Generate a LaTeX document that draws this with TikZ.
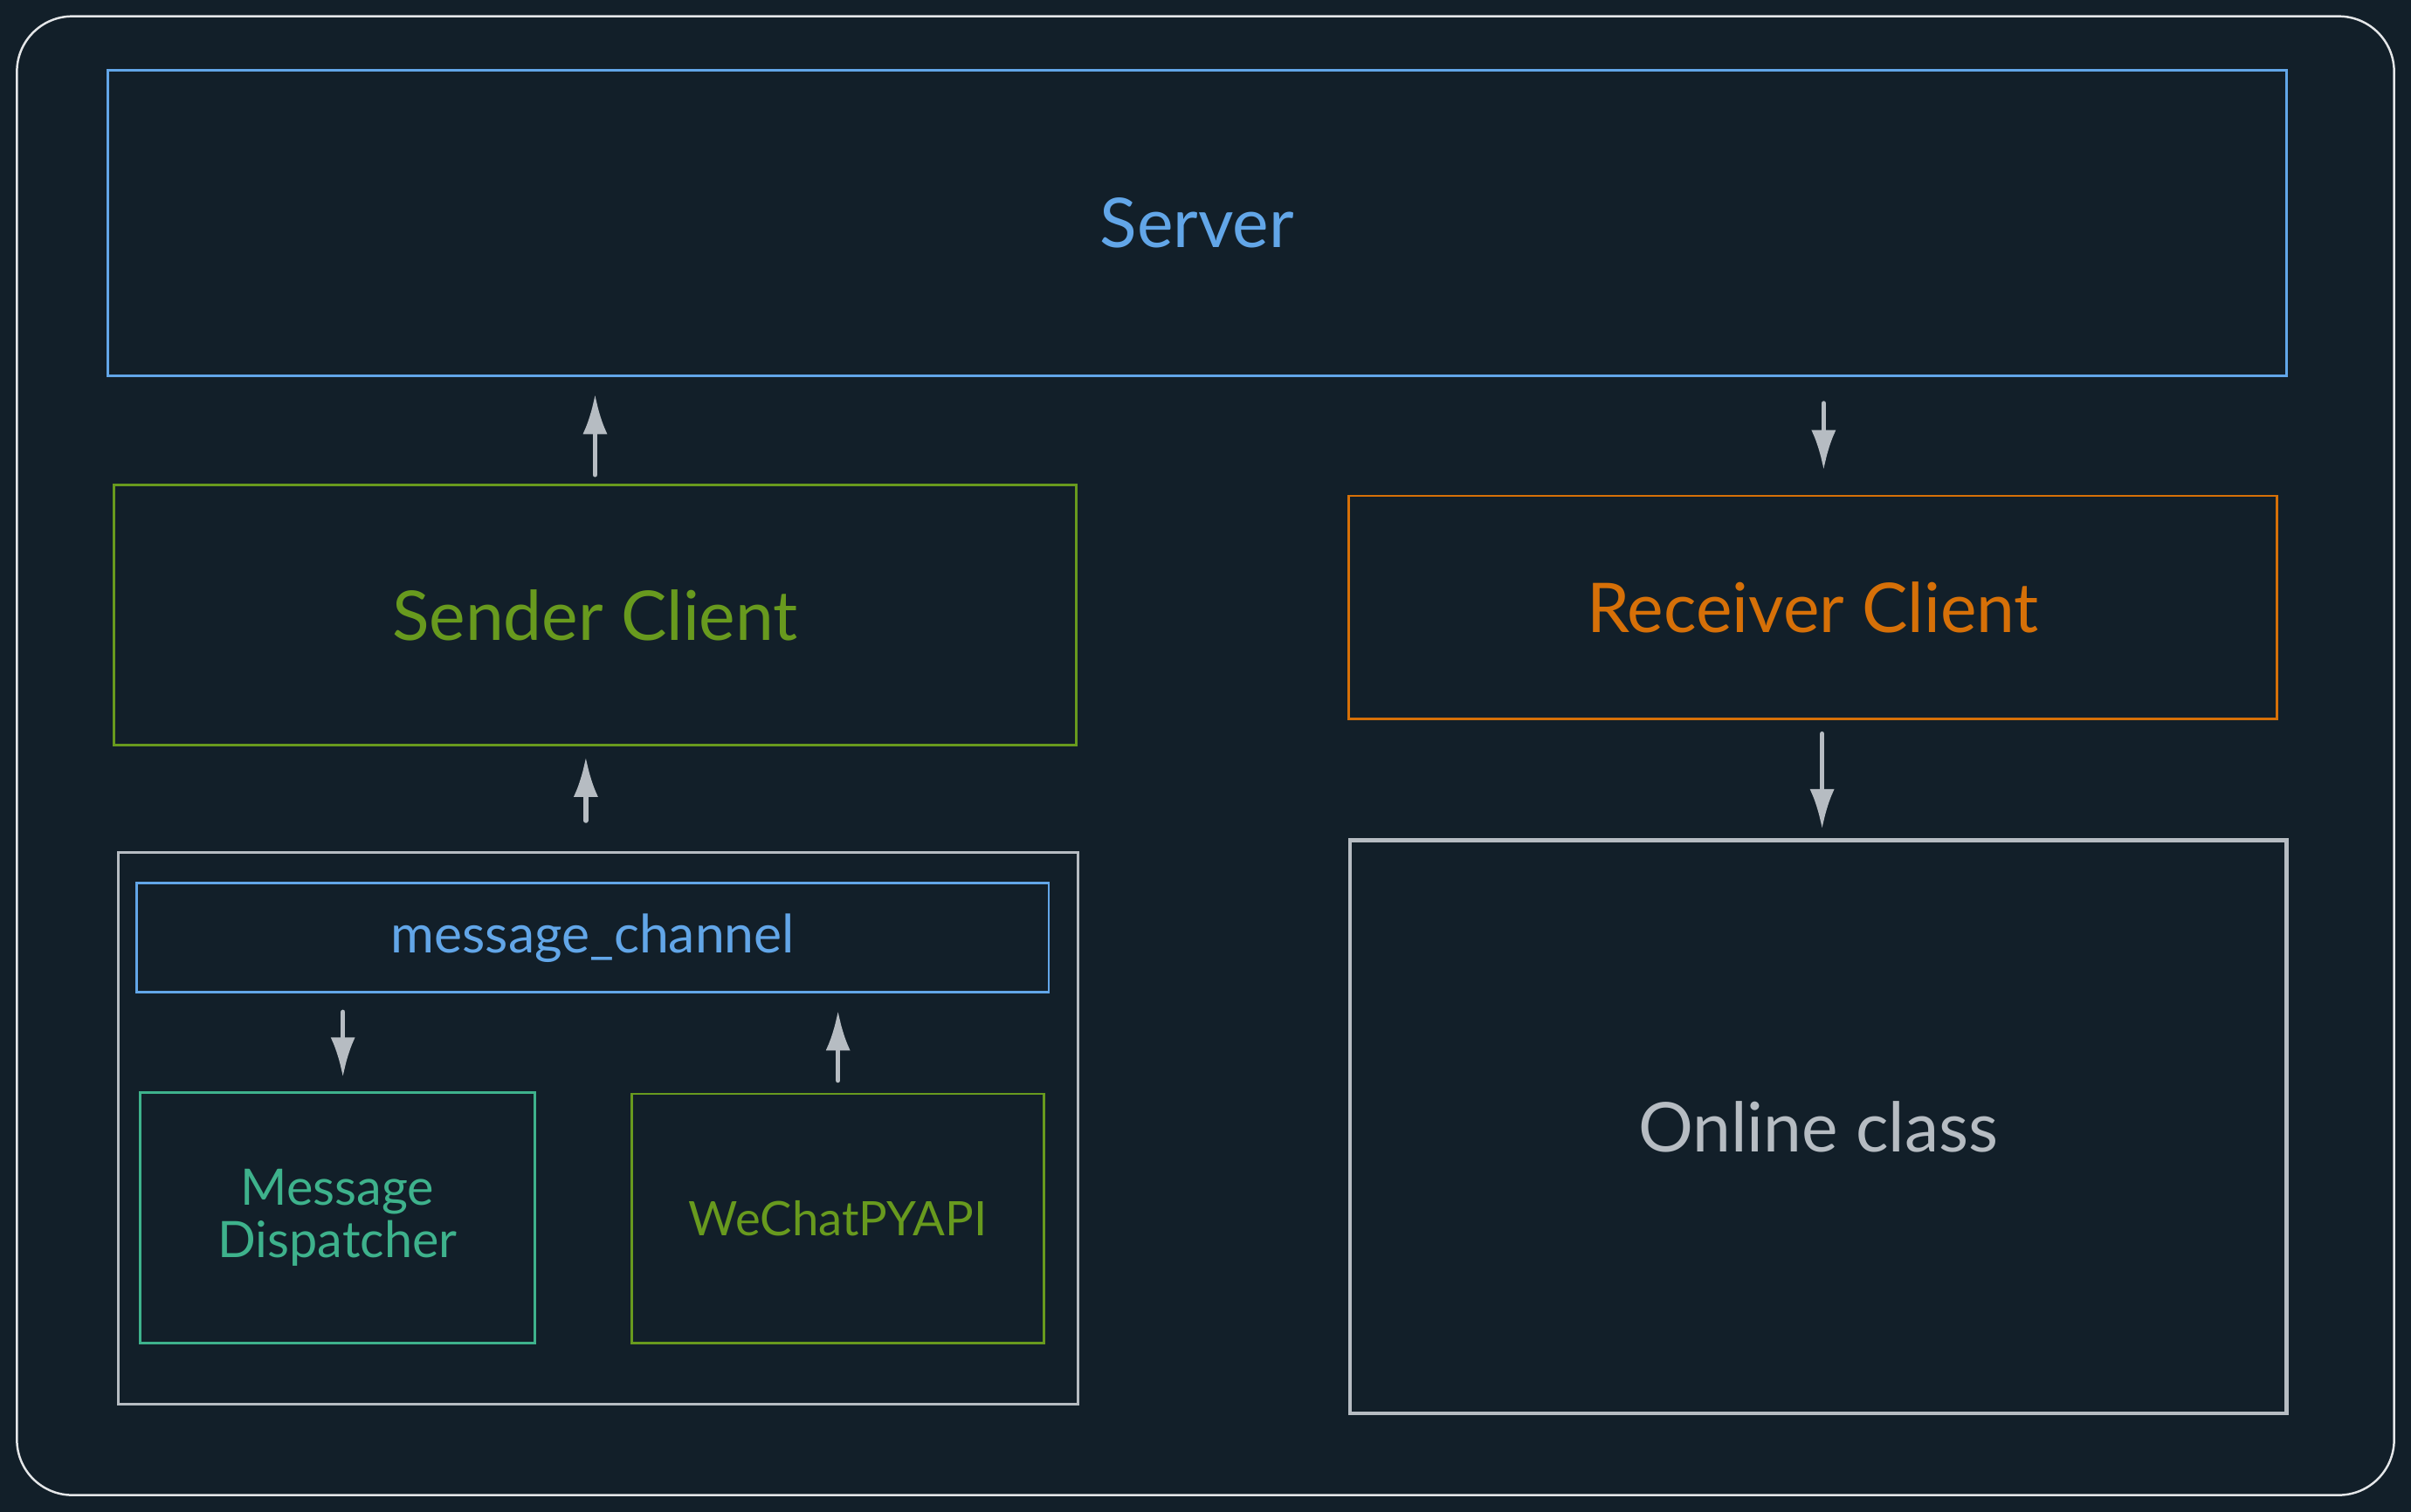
\documentclass[tikz,border=0pt]{standalone}
\usepackage{fontspec}
\setmainfont{Lato}
\usetikzlibrary{arrows.meta,positioning,calc}
\definecolor{xBg}{RGB}{18,31,41}
\definecolor{xFrame}{RGB}{228,230,232}
\definecolor{xBlue}{RGB}{98,166,232}
\definecolor{xGreen}{RGB}{104,154,30}
\definecolor{xOrange}{RGB}{214,112,8}
\definecolor{xTeal}{RGB}{62,178,140}
\definecolor{xGray}{RGB}{182,188,194}

\begin{document}
\begin{tikzpicture}[x=1cm,y=1cm,>=Latex]
\tikzset{
panel/.style={draw,line width=.45pt,inner sep=0pt,align=center},
big/.style={font=\fontsize{12.7}{15}\selectfont},
small/.style={font=\fontsize{9.3}{9.8}\selectfont},
flow/.style={draw=xGray,line width=.9pt,line cap=round,
  -{Latex[length=.26cm,width=.16cm]}}
}
\fill[xBg] (0,0) rectangle (15.68,9.836);
\useasboundingbox (0,0) rectangle (15.68,9.836);
\draw[xFrame,line width=.4pt,rounded corners=.36cm] (.11,.11) rectangle (15.57,9.73);

\node[panel,big,draw=xBlue,text=xBlue,minimum width=14.17cm,minimum height=1.99cm] (server) at (7.785,8.385) {Server};
\node[panel,big,draw=xGreen,text=xGreen,minimum width=6.26cm,minimum height=1.69cm] (sender) at (3.87,5.835) {Sender Client};
\node[panel,big,draw=xOrange,text=xOrange,minimum width=6.04cm,minimum height=1.45cm] (receiver) at (11.79,5.885) {Receiver Client};
\node[panel,big,draw=xGray,text=xGray,line width=.7pt,minimum width=6.09cm,minimum height=3.73cm] (online) at (11.825,2.505) {Online class};

\node[panel,draw=xGray,minimum width=6.24cm,minimum height=3.59cm] (group) at (3.89,2.495) {};
\node[panel,font=\fontsize{9.8}{10}\selectfont,draw=xBlue,text=xBlue,minimum width=5.93cm,minimum height=.71cm] (channel) at (3.855,3.735) {message\_channel};
\node[panel,small,draw=xTeal,text=xTeal,minimum width=2.57cm,minimum height=1.63cm] (dispatch) at (2.195,1.915) {Message\\Dispatcher};
\node[panel,font=\fontsize{8.8}{9}\selectfont,draw=xGreen,text=xGreen,minimum width=2.68cm,minimum height=1.62cm] (wechat) at (5.45,1.91) {WeChatPYAPI};

% connectors
\draw[flow,shorten <=.06cm,shorten >=.11cm] (sender.north) -- (sender.north |- server.south);
\draw[flow,shorten <=.17cm,shorten >=.16cm] ([xshift=.07cm]receiver.north |- server.south) -- ([xshift=.07cm]receiver.north);
\draw[flow,shorten <=.2cm,shorten >=.07cm] ([xshift=-.06cm]sender.south |- group.north) -- ([xshift=-.06cm]sender.south);
\draw[flow,shorten <=.09cm,shorten >=.06cm] ([xshift=.06cm]receiver.south) -- ([xshift=.06cm]receiver.south |- online.north);
\draw[flow,shorten <=.12cm,shorten >=.09cm] ([xshift=.035cm]dispatch.north |- channel.south) -- ([xshift=.035cm]dispatch.north);
\draw[flow,shorten <=.08cm,shorten >=.11cm] (wechat.north) -- (wechat.north |- channel.south);
\end{tikzpicture}
\end{document}
